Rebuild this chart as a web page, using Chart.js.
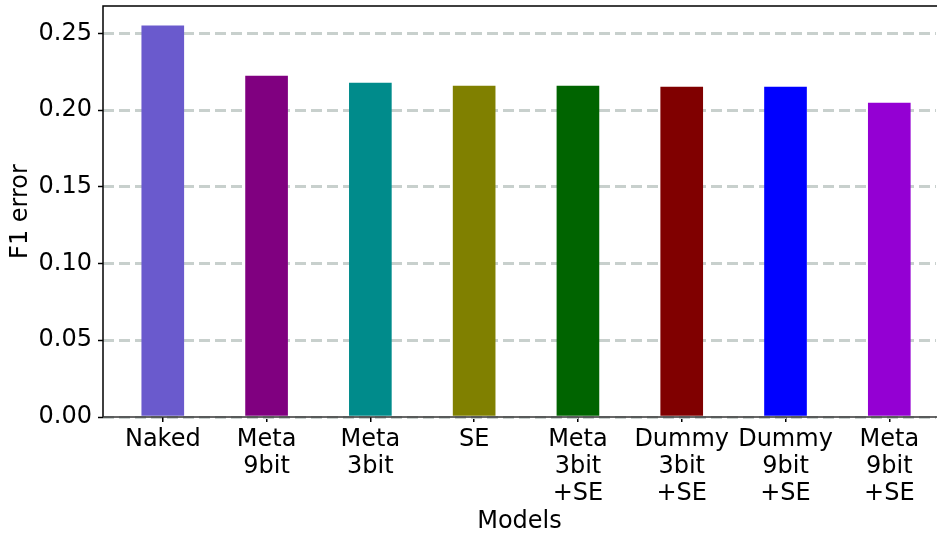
<!DOCTYPE html>
<html>
<head>
<meta charset="utf-8">
<script src="https://cdn.jsdelivr.net/npm/chart.js@4"></script>
<style>
  html, body { margin: 0; padding: 0; background: #fff; overflow: hidden; }
  #wrap { width: 937px; height: 533px; }
</style>
</head>
<body>
<div id="wrap"><canvas id="f1Chart" width="937" height="533"></canvas></div>
<script>
const models = [
  ["Naked"],
  ["Meta", "9bit"],
  ["Meta", "3bit"],
  ["SE"],
  ["Meta", "3bit", "+SE"],
  ["Dummy", "3bit", "+SE"],
  ["Dummy", "9bit", "+SE"],
  ["Meta", "9bit", "+SE"]
];
const f1Errors = [0.2548, 0.2222, 0.2176, 0.2156, 0.2156, 0.2150, 0.2150, 0.2046];
const barColors = ["#6a5acd", "#800080", "#008b8b", "#808000", "#006400", "#800000", "#0000ff", "#9400d3"];
const yTicks = [0, 0.05, 0.10, 0.15, 0.20, 0.25];

const FONT = "'DejaVu Sans', sans-serif";

// spines: left, bottom and top frame lines
const frame = {
  id: "frame",
  afterDatasetsDraw(chart) {
    const { ctx, chartArea: a } = chart;
    ctx.save();
    ctx.strokeStyle = "#000";
    ctx.lineWidth = 1.5;
    ctx.beginPath();
    ctx.moveTo(a.left, a.bottom);
    ctx.lineTo(a.left, a.top);
    ctx.lineTo(a.right + 2, a.top);
    ctx.stroke();
    ctx.strokeStyle = "#333";
    ctx.beginPath();
    ctx.moveTo(a.left, a.bottom);
    ctx.lineTo(a.right + 2, a.bottom);
    ctx.stroke();
    ctx.restore();
  }
};

new Chart(document.getElementById("f1Chart"), {
  type: "bar",
  data: {
    datasets: [{
      data: f1Errors.map((v, i) => ({ x: i, y: v })),
      backgroundColor: barColors,
      barThickness: 42,
      borderWidth: 0
    }]
  },
  options: {
    responsive: false,
    devicePixelRatio: 1,
    animation: false,
    layout: { padding: { left: 0, right: 1, top: 6, bottom: 0 } },
    plugins: { legend: { display: false }, tooltip: { enabled: false } },
    scales: {
      x: {
        type: "linear",
        offset: false,
        min: -0.576,
        max: 7.45,
        afterBuildTicks: s => { s.ticks = models.map((m, i) => ({ value: i })); },
        afterFit: s => { s.height = 116; s.paddingLeft = 0; s.paddingRight = 0; },
        ticks: {
          autoSkip: false,
          maxRotation: 0,
          padding: 4,
          color: "#000",
          font: { family: FONT, size: 24, lineHeight: 1.13 },
          callback: v => models[v]
        },
        grid: {
          offset: false,
          drawOnChartArea: false,
          drawTicks: true,
          tickLength: 5,
          color: "#000",
          lineWidth: 1.5
        },
        border: { display: false },
        title: {
          display: true,
          text: "Models",
          color: "#000",
          font: { family: FONT, size: 24 },
          padding: { top: 0, bottom: -3 }
        }
      },
      y: {
        min: 0,
        max: 0.2678,
        afterBuildTicks: s => { s.ticks = yTicks.map(v => ({ value: v })); },
        afterFit: s => { s.width = 103; s.paddingTop = 0; s.paddingBottom = 0; },
        ticks: {
          padding: 6,
          color: "#000",
          font: { family: FONT, size: 24 },
          callback: v => v.toFixed(2)
        },
        grid: {
          color: "#c8d0cd",
          lineWidth: 3,
          tickLength: 5,
          tickColor: "#000",
          tickWidth: 1.5,
          tickBorderDash: []
        },
        border: { display: false, dash: [11, 5] },
        title: {
          display: true,
          text: "F1 error",
          color: "#000",
          font: { family: FONT, size: 24 },
          padding: { top: 6, bottom: 0 }
        }
      }
    }
  },
  plugins: [frame]
});
</script>
</body>
</html>
